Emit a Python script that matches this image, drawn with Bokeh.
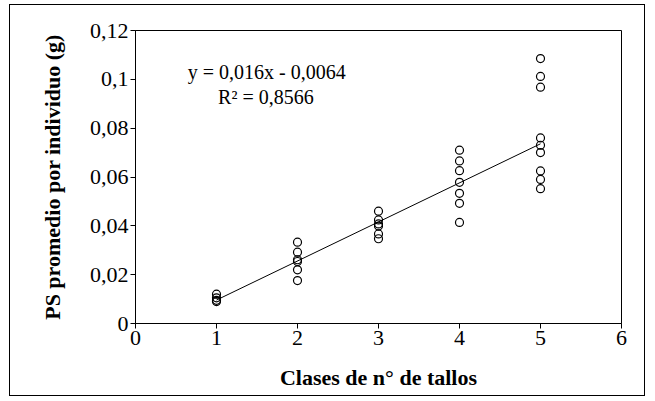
from bokeh.plotting import figure
from bokeh.models import Label, FixedTicker, Range1d
from bokeh.embed import file_html
from bokeh.resources import INLINE

# data
x1 = [1, 1, 1, 1]
y1 = [0.012, 0.0105, 0.0095, 0.009]
x2 = [2, 2, 2, 2, 2, 2]
y2 = [0.0333, 0.0292, 0.0261, 0.0254, 0.022, 0.0176]
x3 = [3, 3, 3, 3, 3, 3]
y3 = [0.0460, 0.0424, 0.0408, 0.0399, 0.0367, 0.0347]
x4 = [4, 4, 4, 4, 4, 4, 4]
y4 = [0.0710, 0.0666, 0.0626, 0.0578, 0.0533, 0.0492, 0.0414]
x5 = [5, 5, 5, 5, 5, 5, 5, 5, 5]
y5 = [0.1085, 0.1012, 0.0968, 0.0760, 0.0730, 0.0700, 0.0625, 0.0590, 0.0552]
slope = 0.016
intercept = -0.0064
eq_text = "y = 0,016x - 0,0064"
r2_text = "R² = 0,8566"
y_ticks = [0, 0.02, 0.04, 0.06, 0.08, 0.1, 0.12]
y_tick_labels = ["0", "0,02", "0,04", "0,06", "0,08", "0,1", "0,12"]
x_ticks = [0, 1, 2, 3, 4, 5, 6]

xs = x1 + x2 + x3 + x4 + x5
ys = y1 + y2 + y3 + y4 + y5

FONT = "Liberation Serif"

p = figure(width=636, height=392, output_backend="svg", toolbar_location=None,
           x_range=Range1d(0, 6), y_range=Range1d(0, 0.12),
           min_border_left=125, min_border_right=25, min_border_top=25, min_border_bottom=74)
p.styles = {"border": "1px solid #000", "margin-left": "9px", "margin-top": "4px"}
p.grid.visible = False
p.outline_line_color = "black"
p.outline_line_width = 1

for ax in (p.xaxis[0], p.yaxis[0]):
    ax.axis_line_color = "black"
    ax.major_tick_line_color = "black"
    ax.minor_tick_line_color = None
    ax.major_tick_in = 0
    ax.major_tick_out = 5
    ax.major_label_text_font = FONT
    ax.major_label_text_font_size = "22px"
    ax.major_label_text_color = "black"
    ax.axis_label_text_font = FONT
    ax.axis_label_text_font_style = "bold"
    ax.axis_label_text_font_size = "22px"
    ax.axis_label_text_color = "black"

p.yaxis.ticker = FixedTicker(ticks=y_ticks)
p.yaxis.major_label_overrides = {t: l for t, l in zip(y_ticks, y_tick_labels)}
p.xaxis.ticker = FixedTicker(ticks=x_ticks)
p.xaxis.major_label_standoff = 2
p.yaxis.major_label_standoff = 2
p.xaxis.axis_label = "Clases de n° de tallos"
p.yaxis.axis_label = "PS promedio por individuo (g)"
p.xaxis.axis_label_standoff = 17
p.yaxis.axis_label_standoff = 22

xf = [min(xs), max(xs)]
yf = [slope * v + intercept for v in xf]
p.line(xf, yf, line_color="black", line_width=1)

p.scatter(xs, ys, marker="circle", size=8, fill_color=None, line_color="black", line_width=1.2)

p.add_layout(Label(x=1.62, y=0.1028, text=eq_text, text_align="center", text_baseline="middle",
                   text_font=FONT, text_font_size="20px", text_color="black"))
p.add_layout(Label(x=1.61, y=0.0926, text=r2_text, text_align="center", text_baseline="middle",
                   text_font=FONT, text_font_size="20px", text_color="black"))

open("out.html", "w").write(file_html(p, INLINE))
